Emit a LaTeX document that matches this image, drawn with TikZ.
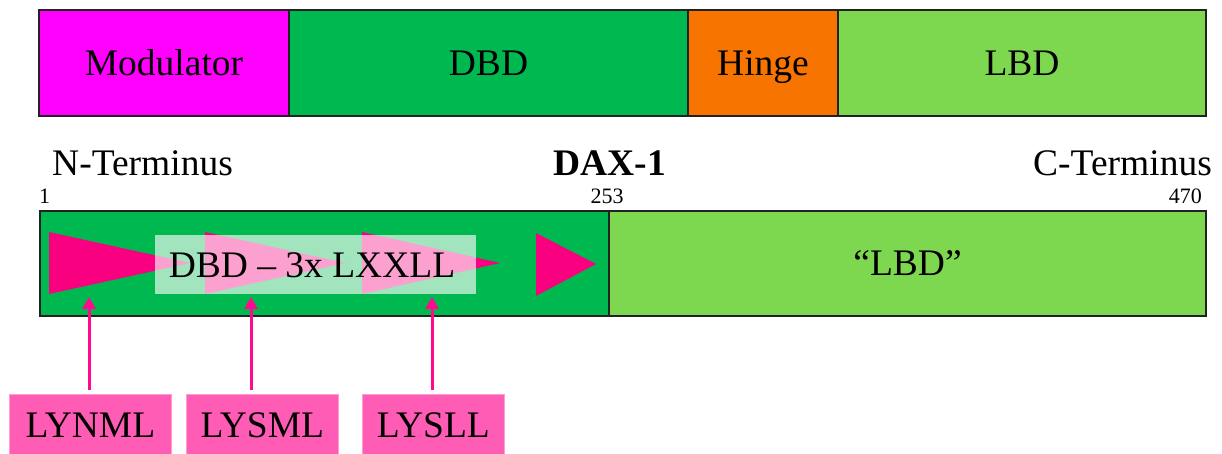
\documentclass[tikz,border=0pt]{standalone}
\usepackage{fontspec}
\setmainfont{Liberation Serif}
\usetikzlibrary{arrows.meta}
\definecolor{modc}{HTML}{FF00FF}
\definecolor{dbdc}{HTML}{00B850}
\definecolor{hingec}{HTML}{F87400}
\definecolor{lbdc}{HTML}{7ED84F}
\definecolor{tric}{HTML}{F8007F}
\definecolor{arrc}{HTML}{FF0A8F}
\definecolor{labc}{HTML}{FF5CB5}
\definecolor{edgec}{HTML}{222222}
\begin{document}
\begin{tikzpicture}[x=1pt,y=-1pt,
  big/.style={font=\fontsize{37.5}{42}\selectfont},
  seg/.style={big,draw=edgec,line width=1.5pt,anchor=north west,inner sep=0pt,outer sep=0pt,text height=24pt,text depth=0pt},
  lab/.style={big,inner sep=0pt},
  num/.style={font=\fontsize{22}{24}\selectfont,inner sep=0pt},
  tri/.style={fill=tric},
  labbox/.style={big,fill=labc,draw=labc!60!white,line width=0.8pt,anchor=north west,inner sep=0pt,text height=24pt,text depth=0pt},
  pointer/.style={draw=arrc,line width=3pt,-{Triangle[width=13pt,length=12pt]}}]
\useasboundingbox (0,0) rectangle (1222,453);
% top bar
\node[seg,fill=modc,minimum width=250pt,minimum height=106pt] (mod) at (39,10) {Modulator};
\node[seg,fill=dbdc,minimum width=399pt,minimum height=106pt] (dbd) at (289,10) {DBD};
\node[seg,fill=hingec,minimum width=150pt,minimum height=106pt] (hinge) at (688,10) {Hinge};
\node[seg,fill=lbdc,minimum width=368pt,minimum height=106pt] (lbd) at (838,10) {LBD};
% labels
\node[lab,anchor=base west] (nterm) at (52,175) {N-Terminus};
\node[lab,anchor=base,font=\fontsize{37.5}{42}\selectfont\bfseries] (dax) at (610,175) {DAX-1};
\node[lab,anchor=base east] (cterm) at (1212,175) {C-Terminus};
\node[num,anchor=base west] (n1) at (39,203) {1};
\node[num,anchor=base] (n253) at (607,203) {253};
\node[num,anchor=base east] (n470) at (1202,203) {470};
% lower bar
\node[seg,fill=dbdc,minimum width=569pt,minimum height=105pt] (ldbd) at (40,211) {};
\node[seg,fill=lbdc,minimum width=597pt,minimum height=105pt] (llbd) at (609,211) {\char"201C LBD\char"201D};
% triangles
\fill[tri] (49,232) -- (190,263) -- (49,294) -- cycle;
\fill[tri] (205,232) -- (345,263) -- (205,294) -- cycle;
\fill[tri] (362,232) -- (500,263) -- (362,294) -- cycle;
\fill[tri] (536,233) -- (596,264) -- (536,296) -- cycle;
% translucent box
\fill[white,opacity=0.63] (155,235) rectangle (476,294);
\node[lab,anchor=base] (dbdtext) at (312,277) {DBD -- 3x LXXLL};
% label boxes
\node[labbox,minimum width=162pt,minimum height=62pt] (l1) at (9,394) {LYNML};
\node[labbox,minimum width=152pt,minimum height=62pt] (l2) at (186,394) {LYSML};
\node[labbox,minimum width=142pt,minimum height=62pt] (l3) at (362,394) {LYSLL};
% arrow tips
\coordinate (t1) at (89,297);
\coordinate (t2) at (251,297);
\coordinate (t3) at (432,297);
\draw[pointer,shorten <=4pt] (l1.north -| t1) -- (t1);
\draw[pointer,shorten <=4pt] (l2.north -| t2) -- (t2);
\draw[pointer,shorten <=4pt] (l3.north -| t3) -- (t3);
\end{tikzpicture}
\end{document}
